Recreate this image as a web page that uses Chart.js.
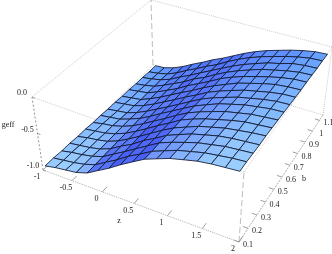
<!DOCTYPE html>
<html>
<head>
<meta charset="utf-8">
<style>html,body{margin:0;padding:0;background:#fff}canvas{display:block}</style>
<script src="https://cdn.jsdelivr.net/npm/chart.js@4"></script>
</head>
<body>
<canvas id="surface" width="332" height="254"></canvas>
<script>
const zGrid = [-0.95,-0.77,-0.59,-0.41,-0.225,-0.045,0.135,0.32,0.5,0.68,0.86,1.04,1.225,1.41,1.59,1.77,1.95];
const bGrid = [0.1,0.17,0.24,0.31,0.38,0.45,0.52,0.59,0.66,0.73,0.80,0.87,0.94,1.01,1.08,1.15];
// geff, one row per b, one column per z
const geff = [
[-.93,-.90,-.88,-.86,-.81,-.72,-.63,-.52,-.42,-.32,-.25,-.18,-.13,-.08,-.05,-.03,-.01],
[-.93,-.91,-.89,-.86,-.81,-.72,-.63,-.52,-.43,-.33,-.26,-.19,-.14,-.09,-.06,-.03,-.01],
[-.94,-.91,-.89,-.86,-.81,-.72,-.63,-.53,-.43,-.33,-.26,-.20,-.14,-.10,-.06,-.04,-.02],
[-.94,-.92,-.90,-.87,-.81,-.72,-.64,-.53,-.44,-.34,-.27,-.20,-.15,-.10,-.07,-.05,-.03],
[-.95,-.92,-.90,-.87,-.81,-.73,-.64,-.54,-.44,-.35,-.28,-.21,-.16,-.11,-.08,-.05,-.03],
[-.95,-.93,-.91,-.87,-.81,-.73,-.64,-.54,-.45,-.35,-.28,-.22,-.17,-.12,-.08,-.06,-.04],
[-.96,-.93,-.91,-.87,-.81,-.73,-.64,-.55,-.45,-.36,-.29,-.23,-.17,-.13,-.09,-.07,-.05],
[-.96,-.94,-.92,-.87,-.81,-.73,-.64,-.55,-.46,-.37,-.30,-.23,-.18,-.13,-.10,-.07,-.06],
[-.97,-.95,-.93,-.88,-.81,-.73,-.65,-.56,-.47,-.38,-.31,-.25,-.19,-.15,-.11,-.08,-.07],
[-.97,-.95,-.93,-.88,-.81,-.73,-.65,-.56,-.48,-.39,-.32,-.26,-.20,-.16,-.12,-.09,-.08],
[-.98,-.96,-.94,-.88,-.81,-.73,-.65,-.57,-.48,-.40,-.33,-.26,-.21,-.16,-.12,-.10,-.09],
[-.98,-.96,-.94,-.88,-.81,-.74,-.65,-.57,-.49,-.40,-.33,-.27,-.22,-.17,-.13,-.10,-.09],
[-.99,-.97,-.94,-.88,-.81,-.74,-.65,-.58,-.49,-.41,-.34,-.28,-.22,-.18,-.14,-.11,-.10],
[-.99,-.97,-.94,-.89,-.81,-.74,-.66,-.58,-.50,-.42,-.35,-.29,-.23,-.19,-.14,-.12,-.11],
[-1.0,-.98,-.95,-.89,-.81,-.74,-.66,-.59,-.50,-.42,-.35,-.29,-.24,-.19,-.15,-.12,-.11],
[-1.0,-.99,-.95,-.89,-.81,-.74,-.66,-.59,-.51,-.43,-.36,-.30,-.25,-.20,-.16,-.13,-.12]
];
const zTicks = [-1,-0.5,0,0.5,1,1.5,2];
const zTickLabels = ['-1','-0.5','0','0.5','1','1.5','2'];
const bTicks = [0.1,0.2,0.3,0.4,0.5,0.6,0.7,0.8,0.9,1,1.1];
const bTickLabels = ['0.1','0.2','0.3','0.4','0.5','0.6','0.7','0.8','0.9','1','1.1'];
const gTicks = [0,-0.5,-1];
const gTickLabels = ['0.0','-0.5','-1.0'];

// the box as seen on the page: floor corners then top corners
const floorA = [43,170], floorB = [239,242], floorC = [323,115], floorD = [153,65];
const topA = [32,97], topB = [244,172], topC = [332,47], topD = [151,0];

function mix(p, q, t) { return [p[0] + (q[0] - p[0]) * t, p[1] + (q[1] - p[1]) * t]; }

// perspective view of the box, z -1..2, b 0.1..1.15, g -1..0
function project(z, b, g) {
  const u0 = (z + 1) / 3, v0 = (b - 0.1) / 1.05, w = g + 1;
  const u = u0 / (1.15 - 0.15 * u0);
  const v = 1.15 * v0 / (1 + 0.15 * v0);
  const low = mix(mix(floorA, floorB, u), mix(floorD, floorC, u), v);
  const high = mix(mix(topA, topB, u), mix(topD, topC, u), v);
  const p = mix(low, high, w);
  return {x: p[0], y: p[1]};
}

function cellColor(i, j) {
  const slope = ((geff[j][i+1] - geff[j][i]) + (geff[j+1][i+1] - geff[j+1][i])) / 2;
  const s = Math.min(1, slope / 0.1);
  const back = j / (bGrid.length - 2);
  const light = [158 - 55 * back, 212 - 50 * back, 255];
  const dark = [72, 96, 248];
  const c = [0,1,2].map(k => Math.round(light[k] + (dark[k] - light[k]) * Math.pow(s, 1.8)));
  return 'rgb(' + c.join(',') + ')';
}

const datasets = [];
// nearest cells first: chart.js paints the first dataset last
for (let j = 0; j < bGrid.length - 1; j++) {
  for (let i = zGrid.length - 2; i >= 0; i--) {
    datasets.push({
      data: [
        project(zGrid[i], bGrid[j], geff[j][i]),
        project(zGrid[i+1], bGrid[j], geff[j][i+1]),
        project(zGrid[i+1], bGrid[j+1], geff[j+1][i+1]),
        project(zGrid[i], bGrid[j+1], geff[j+1][i]),
        project(zGrid[i], bGrid[j], geff[j][i])
      ],
      showLine: true, fill: 'shape', tension: 0, pointRadius: 0,
      backgroundColor: cellColor(i, j), borderColor: '#10182f', borderWidth: 0.85
    });
  }
}

function edge(a, b, color, dash) {
  datasets.push({
    data: [a, b], showLine: true, fill: false, pointRadius: 0, tension: 0,
    borderColor: color, borderWidth: 0.7, borderDash: dash
  });
}
const corner = (z, b, g) => project(z, b, g);
// top and floor edges
edge(corner(-1,0.1,0), corner(-1,1.15,0), '#b5b5b5', [1,1]);
edge(corner(-1,1.15,0), corner(2,1.15,0), '#b5b5b5', [1,1]);
edge(corner(2,1.15,0), corner(2,0.1,0), '#b5b5b5', [1,1]);
edge(corner(2,0.1,0), corner(-1,0.1,0), '#b5b5b5', [1,1]);
edge(corner(-1,1.15,-1), corner(2,1.15,-1), '#b5b5b5', [1,1]);
edge(corner(-1,0.1,-1), corner(-1,1.15,-1), '#b5b5b5', [1,1]);
edge(corner(-1,0.1,-1), corner(2,0.1,-1), '#8a8a8a', [1,1]);
edge(corner(2,0.1,-1), corner(2,1.15,-1), '#8a8a8a', [2,1]);
// verticals
edge(corner(-1,0.1,-1), corner(-1,0.1,0), '#666', [2,2]);
edge(corner(2,0.1,-1), corner(2,0.1,0), '#a0a0a0', [6,3]);
edge(corner(-1,1.15,-1), corner(-1,1.15,0), '#a0a0a0', [6,3]);
edge(corner(2,1.15,-1), corner(2,1.15,0), '#b5b5b5', [1,1]);
// tick marks
zTicks.forEach(t => edge(corner(t,0.1,-1), corner(t,0.14,-1), '#777', []));
bTicks.forEach(t => edge(corner(2,t,-1), corner(1.93,t,-1), '#777', []));
gTicks.forEach(t => edge(corner(-1,0.1,t), corner(-0.95,0.1,t), '#777', []));

const axisText = {
  id: 'axisText',
  afterDatasetsDraw(chart) {
    const ctx = chart.ctx, sx = chart.scales.x, sy = chart.scales.y;
    ctx.save();
    ctx.font = '8px "Liberation Serif"';
    ctx.fillStyle = '#222';
    ctx.textAlign = 'center';
    ctx.textBaseline = 'middle';
    const put = (text, p, dx, dy) => ctx.fillText(text, sx.getPixelForValue(p.x) + dx, sy.getPixelForValue(p.y) + dy);
    zTicks.forEach((t, i) => put(zTickLabels[i], project(t, 0.1, -1), -6, 7));
    bTicks.forEach((t, i) => put(bTickLabels[i], project(2, t, -1), 9, 3));
    gTicks.forEach((t, i) => put(gTickLabels[i], project(-1, 0.1, t), -10, -4));
    put('z', {x: 119, y: 221}, 0, 0);
    put('b', {x: 304, y: 179}, 0, 0);
    put('geff', {x: 8, y: 125}, 0, 0);
    ctx.restore();
  }
};

new Chart(document.getElementById('surface'), {
  type: 'scatter',
  data: {datasets: datasets},
  options: {
    responsive: false,
    animation: false,
    layout: {padding: 0},
    plugins: {legend: {display: false}, tooltip: {enabled: false}},
    scales: {
      x: {type: 'linear', min: 0, max: 332, display: false},
      y: {type: 'linear', min: 0, max: 254, reverse: true, display: false}
    }
  },
  plugins: [axisText]
});
</script>
</body>
</html>
